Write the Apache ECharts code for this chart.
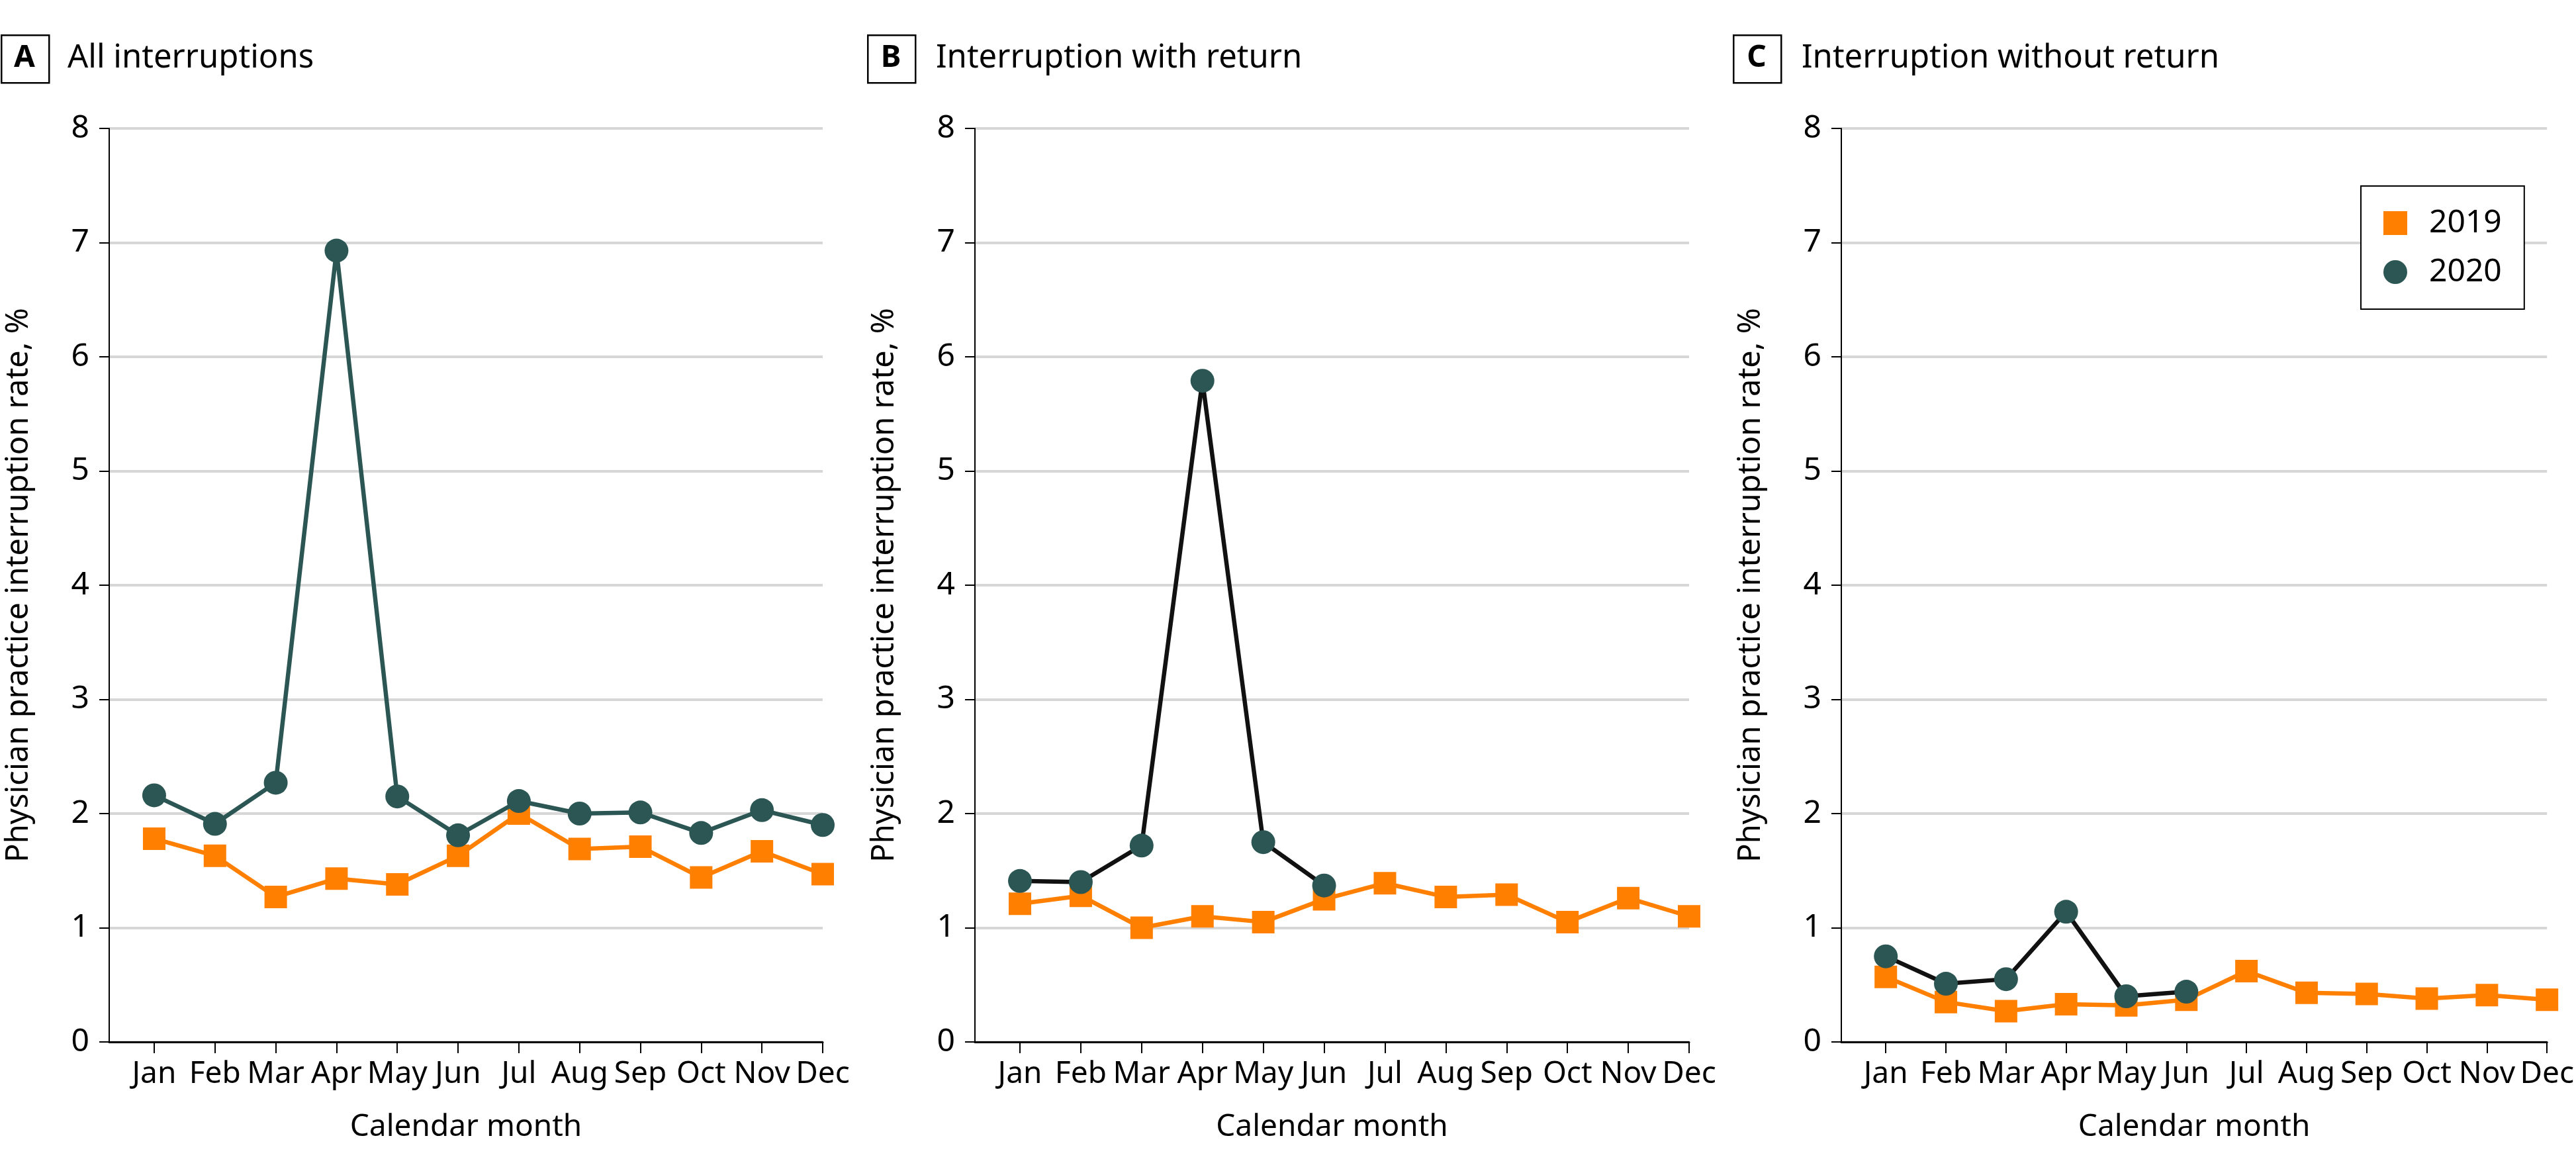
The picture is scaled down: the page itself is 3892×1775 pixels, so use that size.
<!DOCTYPE html>
<html>
<head>
<meta charset="utf-8">
<script src="https://cdn.jsdelivr.net/npm/echarts@6/dist/echarts.min.js"></script>
<style>
html,body{margin:0;padding:0;background:#fff;}
#chart{width:3892px;height:1775px;}
</style>
</head>
<body>
<div id="chart"></div>
<script>
const months = ['Jan','Feb','Mar','Apr','May','Jun','Jul','Aug','Sep','Oct','Nov','Dec'];
const yTicks = [0,1,2,3,4,5,6,7,8];
const panelLetters = ['A','B','C'];
const panelTitles = ['All interruptions','Interruption with return','Interruption without return'];
const seriesNames = ['2019','2020'];

const allInt2019 = [1.78,1.63,1.27,1.43,1.38,1.63,2.00,1.69,1.71,1.44,1.67,1.47];
const allInt2020 = [2.16,1.91,2.27,6.93,2.15,1.81,2.11,2.00,2.01,1.83,2.03,1.90];
const withRet2019 = [1.21,1.28,1.00,1.10,1.05,1.25,1.39,1.27,1.29,1.05,1.26,1.10];
const withRet2020 = [1.41,1.40,1.72,5.79,1.75,1.37];
const withoutRet2019 = [0.57,0.35,0.27,0.33,0.32,0.37,0.62,0.43,0.42,0.38,0.41,0.37];
const withoutRet2020 = [0.75,0.51,0.55,1.14,0.40,0.44];

const ORANGE = '#ff7f00';
const GREEN = '#2b5654';
const FONT = 'Noto Sans';

const panels = [
  {left:165, width:1078, boxX:0, textX:102, d19:allInt2019, d20:allInt2020, line20:GREEN},
  {left:1473, width:1079, boxX:1309, textX:1414, d19:withRet2019, d20:withRet2020, line20:'#111111'},
  {left:2782, width:1086, boxX:2617, textX:2722, d19:withoutRet2019, d20:withoutRet2020, line20:'#111111'}
];

const toPts = arr => arr.map((v,i)=>[i+1, v]);
const monthVals = months.map((m,i)=>i+1);

const grid=[], xAxis=[], yAxis=[], series=[], graphic=[];
panels.forEach((p,k)=>{
  grid.push({left:p.left, width:p.width, top:194, height:1380});
  xAxis.push({
    type:'value', gridIndex:k, min:0.26, max:12,
    name:'Calendar month', nameLocation:'middle', nameGap:106,
    nameTextStyle:{fontFamily:FONT, fontSize:46, color:'#000'},
    axisLine:{show:true, onZero:false, lineStyle:{color:'#000', width:3}},
    axisTick:{show:true, customValues:monthVals, length:17, lineStyle:{color:'#000', width:2}},
    axisLabel:{customValues:monthVals, margin:26, fontFamily:FONT, fontSize:46, color:'#000',
      formatter:v=>months[Math.round(v)-1]},
    splitLine:{show:false}
  });
  yAxis.push({
    type:'value', gridIndex:k, min:0, max:8, interval:1,
    name:'Physician practice interruption rate, %', nameLocation:'middle', nameGap:113,
    nameTextStyle:{fontFamily:FONT, fontSize:47, color:'#000'},
    axisLine:{show:true, lineStyle:{color:'#000', width:2}},
    axisTick:{show:true, length:15, lineStyle:{color:'#000', width:2}},
    axisLabel:{margin:30, fontFamily:FONT, fontSize:48, color:'#000',
      formatter:v=>String(yTicks[Math.round(v)])},
    splitLine:{show:true, lineStyle:{color:'#d7d7d7', width:4}}
  });
  series.push({
    name:seriesNames[0], type:'line', xAxisIndex:k, yAxisIndex:k, data:toPts(p.d19),
    symbol:'rect', symbolSize:34, z:2,
    lineStyle:{color:ORANGE, width:6.5}, itemStyle:{color:ORANGE}
  });
  series.push({
    name:seriesNames[1], type:'line', xAxisIndex:k, yAxisIndex:k, data:toPts(p.d20),
    symbol:'circle', symbolSize:36, z:3,
    lineStyle:{color:p.line20, width:6.5}, itemStyle:{color:GREEN}
  });
  graphic.push({type:'rect', left:p.boxX+1, top:52, shape:{width:72, height:72},
    style:{fill:'#fff', stroke:'#000', lineWidth:2.5}});
  graphic.push({type:'text', x:p.boxX+37, y:88,
    style:{text:panelLetters[k], fontFamily:FONT, fontWeight:'bold', fontSize:46, fill:'#000',
      textAlign:'center', textVerticalAlign:'middle'}});
  graphic.push({type:'text', x:p.textX, y:88,
    style:{text:panelTitles[k], fontFamily:FONT, fontSize:49, fill:'#000',
      textAlign:'left', textVerticalAlign:'middle'}});
});

const chart = echarts.init(document.getElementById('chart'), null, {renderer:'canvas'});
chart.setOption({
  backgroundColor:'#fff',
  animation:false,
  grid, xAxis, yAxis, series, graphic,
  legend:{
    left:3567, top:281, orient:'vertical',
    padding:[32,34,32,34], itemGap:26, itemWidth:36, itemHeight:36,
    borderColor:'#000', borderWidth:2, backgroundColor:'#fff',
    textStyle:{fontFamily:FONT, fontSize:48, color:'#000', padding:[0,0,0,28]},
    data:[
      {name:'2019', icon:'rect', itemStyle:{color:ORANGE}},
      {name:'2020', icon:'circle', itemStyle:{color:GREEN}}
    ]
  }
});
</script>
</body>
</html>
